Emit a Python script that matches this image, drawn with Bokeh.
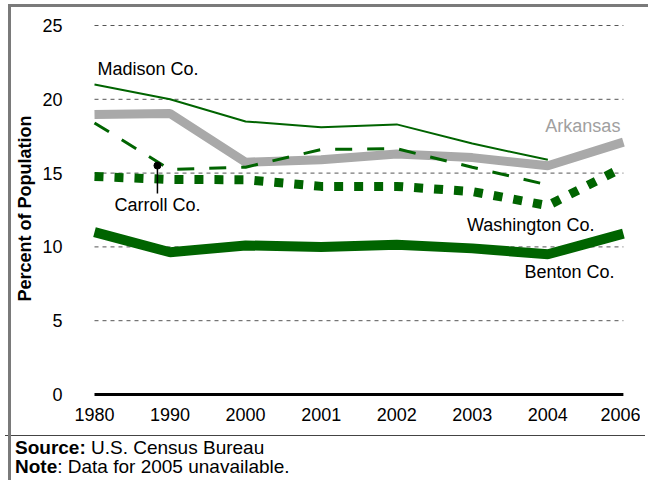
from bokeh.plotting import figure
from bokeh.models import FixedTicker, Div, Range1d, Label
from bokeh.layouts import column
from bokeh.embed import file_html
from bokeh.resources import INLINE

# ---- data ----
years = ["1980", "1990", "2000", "2001", "2002", "2003", "2004", "2006"]
arkansas = [18.97, 19.04, 15.74, 15.9, 16.3, 16.05, 15.5, 17.1]
madison = [21.0, 20.0, 18.5, 18.1, 18.3, 17.0, 15.9]          # 1980-2004
carroll = [18.4, 15.24, 15.4, 16.6, 16.65, 15.4, 14.2]         # 1980-2004
washington = [14.77, 14.57, 14.55, 14.1, 14.1, 13.75, 12.8, 15.4]
benton = [11.0, 9.64, 10.1, 10.0, 10.15, 9.9, 9.5, 10.9]
y_ticks = [0, 5, 10, 15, 20, 25]

FONT = "Liberation Sans"
GREEN = "#006400"
GRAY = "#a9a9a9"

n = len(years)
p = figure(width=640, height=430,
           x_range=Range1d(-0.1059, 7.094), y_range=Range1d(-0.4065, 25.61),
           output_backend="svg", toolbar_location=None,
           min_border_left=86, min_border_right=10,
           min_border_top=16, min_border_bottom=30)
p.xgrid.visible = False
p.ygrid.visible = False
p.outline_line_color = None
p.background_fill_color = "white"
p.border_fill_color = "white"

for ax in (p.xaxis[0], p.yaxis[0]):
    ax.axis_line_color = None
    ax.major_tick_line_color = None
    ax.minor_tick_line_color = None
    ax.major_tick_out = 0
    ax.major_tick_in = 0
    ax.major_label_text_font = FONT
    ax.major_label_text_font_size = "18px"
    ax.major_label_text_color = "black"

p.xaxis.ticker = FixedTicker(ticks=list(range(n)))
p.xaxis.major_label_overrides = {i: y for i, y in enumerate(years)}
p.xaxis.major_label_standoff = 7

p.yaxis.ticker = FixedTicker(ticks=y_ticks)
p.yaxis.major_label_standoff = 24
p.yaxis.axis_label = "Percent of Population"
p.yaxis.axis_label_text_font = FONT
p.yaxis.axis_label_text_font_size = "18px"
p.yaxis.axis_label_text_font_style = "bold"
p.yaxis.axis_label_text_color = "black"
p.yaxis.axis_label_standoff = 4

# gridlines (dashed) and zero line
p.multi_line(xs=[[0, n - 1] for _ in y_ticks[1:]], ys=[[t, t] for t in y_ticks[1:]],
             line_color="#555555", line_width=1, line_dash="4 4")
p.line([0, n - 1], [y_ticks[0]] * 2, line_color="black", line_width=3)

xi = list(range(n))
p.line(xi, arkansas, line_color=GRAY, line_width=9)
p.line(xi[:len(madison)], madison, line_color=GREEN, line_width=2)
p.line(xi[:len(carroll)], carroll, line_color=GREEN, line_width=3, line_dash="17 15")
p.line(xi, washington, line_color=GREEN, line_width=9, line_dash="9 11")
p.line(xi, benton, line_color=GREEN, line_width=10)

# leader for Carroll Co.
p.segment(x0=[0.833], y0=[15.51], x1=[0.833], y1=[13.62], line_color="black", line_width=1.5)
p.scatter(x=[0.833], y=[15.51], size=7, color="black")

labels = [
    ("Madison Co.", 0.04, 22.02, "left", "black"),
    ("Arkansas", 6.96, 18.22, "right", "#a0a0a0"),
    ("Carroll Co.", 0.265, 12.87, "left", "black"),
    ("Washington Co.", 4.93, 11.45, "left", "black"),
    ("Benton Co.", 5.69, 8.27, "left", "black"),
]
for t, x, y, al, c in labels:
    p.add_layout(Label(x=x, y=y, text=t, text_align=al, text_baseline="middle",
                       text_font=FONT, text_font_size="18px", text_color=c))

note = Div(text=(
    '<div style="position:fixed;left:8px;top:4px;width:3px;height:480px;background:#7a7a7a;z-index:10"></div>'
    '<div style="position:fixed;left:8px;top:4px;width:640px;height:3px;background:#7a7a7a;z-index:10"></div>'
    '<div style="border-top:1.5px solid #444; font-family:\'Liberation Sans\', Arial, sans-serif; '
    'font-size:19px; line-height:19px; padding-top:2px; padding-left:10px; color:black; width:640px;">'
    '<b>Source:</b> U.S. Census Bureau<br><b>Note</b>: Data for 2005 unavailable.</div>'),
    width=640, height=50)

layout = column(p, note)

open("out.html", "w").write(file_html(layout, INLINE))
